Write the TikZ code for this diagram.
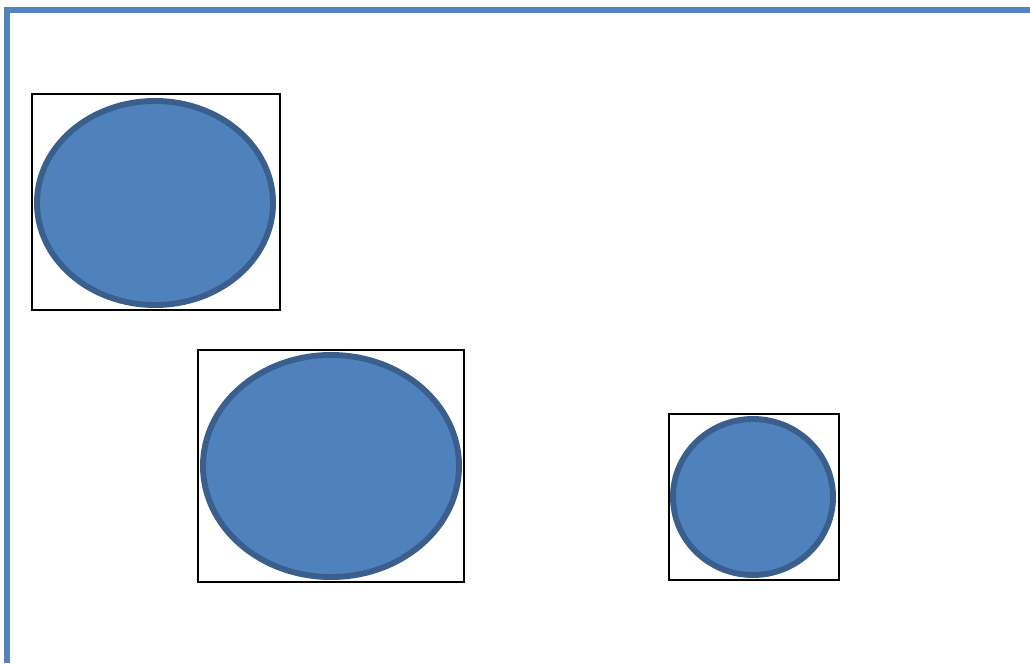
\documentclass[tikz,border=0pt]{standalone}
\usepackage{xcolor}
\usepackage{tikz}
\usetikzlibrary{shapes.geometric, positioning}

\definecolor{officeblue}{HTML}{4F81BD}
\definecolor{officeedge}{HTML}{3A5F8C}
\definecolor{framblue}{HTML}{5282C0}

\begin{document}
\begin{tikzpicture}[
  x=0.025cm, y=-0.025cm,
  frame/.style={draw=framblue, line width=3.8pt},
  box/.style={rectangle, draw, line width=0.9pt, inner sep=0pt, outer sep=0pt},
  blob/.style={ellipse, draw=officeedge, fill=officeblue, line width=4.2pt,
               inner sep=0pt, outer sep=0pt}
]
  \useasboundingbox (0,0) rectangle (1030,663);

  \coordinate (topright) at (1030,10);
  \coordinate (corner) at (7,10);
  \coordinate (bottomleft) at (7,663);
  \draw[frame] (topright) -- (corner) -- (bottomleft);

  \node[box, minimum width=6.2cm, minimum height=5.4cm] (boxa) at (156,202) {};
  \node[blob, minimum width=5.9cm, minimum height=5.1cm] (blobA) at (155,203) {};

  \node[box, minimum width=6.65cm, minimum height=5.8cm] (boxb) at (331,466) {};
  \node[blob, minimum width=6.4cm, minimum height=5.55cm] (blobB) at (331,466) {};

  \node[box, minimum width=4.25cm, minimum height=4.15cm] (boxc) at (754,497) {};
  \node[blob, minimum width=4.0cm, minimum height=3.9cm] (blobC) at (753,497) {};
\end{tikzpicture}
\end{document}
